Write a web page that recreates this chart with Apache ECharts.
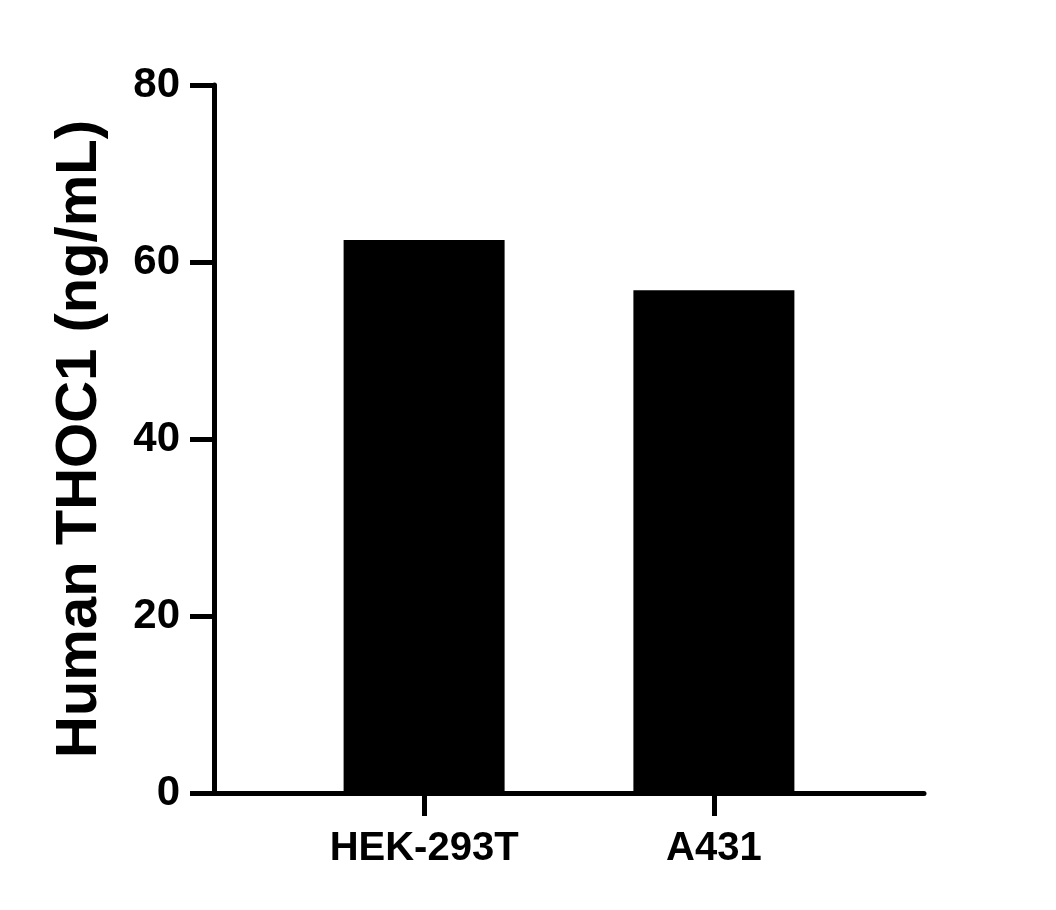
<!DOCTYPE html>
<html>
<head>
<meta charset="utf-8">
<script src="https://cdn.jsdelivr.net/npm/echarts@6/dist/echarts.min.js"></script>
<style>
html,body{margin:0;padding:0;background:#fff;}
#chart{width:1056px;height:910px;}
</style>
</head>
<body>
<div id="chart"></div>
<script>
const categories = ['HEK-293T', 'A431'];
const values = [62.5, 56.8];
const yTicks = [0, 20, 40, 60, 80];
const yTitle = 'Human THOC1 (ng/mL)';

const barData = values.map((v, i) => [i, v]);
const font = '"Liberation Sans", Arial, sans-serif';

const chart = echarts.init(document.getElementById('chart'), null, {renderer: 'canvas'});
chart.setOption({
  backgroundColor: '#ffffff',
  animation: false,
  grid: {left: 214, right: 132, top: 85, bottom: 117, containLabel: false},
  xAxis: {
    type: 'value',
    min: -0.725,
    max: 1.725,
    splitLine: {show: false},
    axisLine: {show: true, onZero: false, lineStyle: {color: '#000', width: 5}},
    axisTick: {show: true, length: 23, lineStyle: {color: '#000', width: 5}, customValues: [0, 1]},
    axisLabel: {
      show: true, margin: 36, color: '#000', fontSize: 40, fontWeight: 'bold', fontFamily: font,
      customValues: [0, 1],
      formatter: v => categories[Math.round(v)] ?? ''
    }
  },
  yAxis: {
    type: 'value',
    min: yTicks[0],
    max: yTicks[yTicks.length - 1],
    interval: 20,
    splitLine: {show: false},
    axisLine: {show: true, onZero: false, lineStyle: {color: '#000', width: 5}},
    axisTick: {show: true, length: 24, lineStyle: {color: '#000', width: 5}},
    axisLabel: {margin: 34, color: '#000', fontSize: 42, fontWeight: 'bold', fontFamily: font},
    name: yTitle,
    nameLocation: 'middle',
    nameGap: 105,
    nameTextStyle: {color: '#000', fontSize: 58, fontWeight: 'bold', fontFamily: font}
  },
  series: [{
    type: 'bar',
    data: barData,
    barWidth: 161,
    itemStyle: {color: '#000'}
  }]
});
</script>
</body>
</html>
